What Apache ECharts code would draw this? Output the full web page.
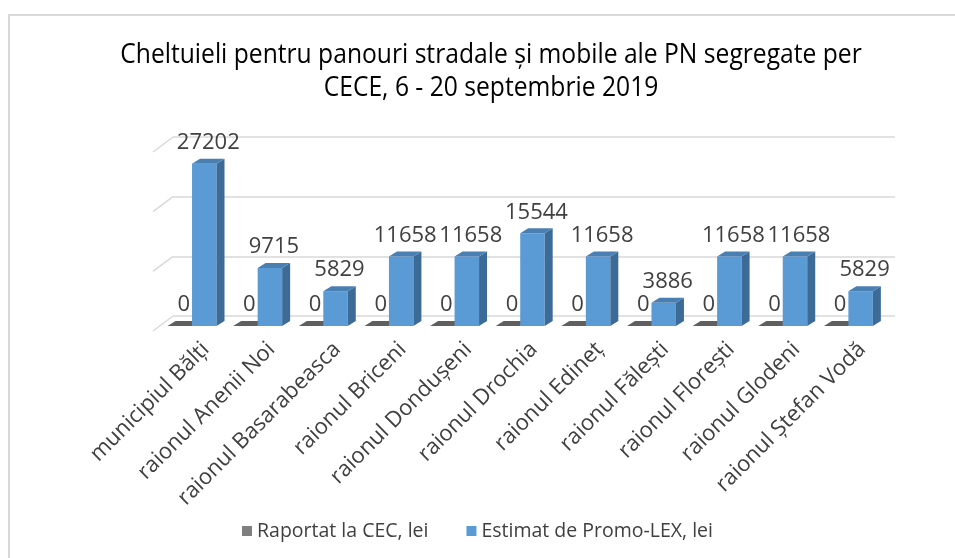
<!DOCTYPE html>
<html>
<head>
<meta charset="utf-8">
<script src="https://cdn.jsdelivr.net/npm/echarts@6/dist/echarts.min.js"></script>
<style>
  html, body { margin: 0; padding: 0; background: #ffffff; }
  #chart { width: 955px; height: 558px; }
</style>
</head>
<body>
<div id="chart"></div>
<script>
// Districts (CECE) and spending per district, lei
const categories = [
  'municipiul Bălți', 'raionul Anenii Noi', 'raionul Basarabeasca', 'raionul Briceni',
  'raionul Dondușeni', 'raionul Drochia', 'raionul Edineț', 'raionul Fălești',
  'raionul Florești', 'raionul Glodeni', 'raionul Ștefan Vodă'
];
const reportedCEC = [0, 0, 0, 0, 0, 0, 0, 0, 0, 0, 0];
const estimatedPromoLex = [27202, 9715, 5829, 11658, 11658, 15544, 11658, 3886, 11658, 11658, 5829];
const valueTicks = [0, 10000, 20000, 30000];

const seriesNames = ['Raportat la CEC, lei', 'Estimat de Promo-LEX, lei'];
const titleLines = ['Cheltuieli pentru panouri stradale și mobile ale PN segregate per',
                    'CECE, 6 - 20 septembrie 2019'];

const FONT = '"Open Sans", "Noto Sans", sans-serif';
const TEXT = '#404040';
const GRID_LINE = '#d9d9d9';
const DEPTH_X = 8, DEPTH_Y = -5;   // bar extrusion
const WALL_X = 20, WALL_Y = 15;    // side wall depth

const grayFaces = { front: '#7f7f7f', side: '#4d4d4d', top: '#5f5f5f' };
const blueFaces = { front: '#5b9bd5', side: '#3d6b97', top: '#4a7fb2' };

// Draws a pseudo-3D column: front face, right side face, top face and a value label
function columnRenderer(side, faces) {
  return function (params, api) {
    const cat = api.value(0);
    const val = api.value(1);
    const base = api.coord([cat, 0]);
    const top = api.coord([cat, val]);
    const band = api.size([1, 0])[0];
    const w = band * 0.373;
    const x0 = side === 0 ? base[0] - w : base[0];
    const x1 = x0 + w;
    const yb = base[1], yt = top[1];
    const children = [];
    if (yb - yt > 0.5) {
      children.push({ type: 'rect', shape: { x: x0, y: yt, width: w, height: yb - yt },
        style: { fill: faces.front } });
      children.push({ type: 'polygon', shape: { points: [[x1, yt], [x1 + DEPTH_X, yt + DEPTH_Y],
        [x1 + DEPTH_X, yb + DEPTH_Y], [x1, yb]] }, style: { fill: faces.side } });
    }
    children.push({ type: 'polygon', shape: { points: [[x0, yt], [x0 + DEPTH_X, yt + DEPTH_Y],
      [x1 + DEPTH_X, yt + DEPTH_Y], [x1, yt]] }, style: { fill: faces.top } });
    children.push({ type: 'text', x: x0 + w / 2 + DEPTH_X / 2, y: yt + DEPTH_Y - 5,
      style: { text: String(val), fill: TEXT, fontSize: 22, fontFamily: FONT,
        align: 'center', verticalAlign: 'bottom' } });
    return { type: 'group', children: children };
  };
}

// Left side-wall gridline stubs, one per value tick
function wallRenderer(params, api) {
  const p = api.coord([0, api.value(1)]);
  const band = api.size([1, 0])[0];
  const xl = p[0] - band / 2;
  return { type: 'line', shape: { x1: xl, y1: p[1], x2: xl - WALL_X, y2: p[1] + WALL_Y },
    style: { stroke: GRID_LINE, lineWidth: 1.5 } };
}

const chart = echarts.init(document.getElementById('chart'), null, { renderer: 'canvas' });

chart.setOption({
  backgroundColor: '#ffffff',
  animation: false,
  graphic: [
    { type: 'rect', shape: { x: 9, y: 15, width: 1000, height: 600 }, z: -10,
      style: { fill: 'none', stroke: GRID_LINE, lineWidth: 2 } },
    { type: 'text', x: 491, y: 55, scaleX: 0.88,
      style: { text: titleLines[0], fill: '#000000', fontSize: 28, fontFamily: FONT,
        align: 'center', verticalAlign: 'middle', textAlign: 'center', textVerticalAlign: 'middle' } },
    { type: 'text', x: 491, y: 88, scaleX: 0.88,
      style: { text: titleLines[1], fill: '#000000', fontSize: 28, fontFamily: FONT,
        align: 'center', verticalAlign: 'middle', textAlign: 'center', textVerticalAlign: 'middle' } }
  ],
  legend: {
    data: seriesNames,
    left: 'center',
    top: 516,
    icon: 'rect',
    itemWidth: 10,
    itemHeight: 10,
    itemGap: 38,
    textStyle: { color: TEXT, fontSize: 19.5, fontFamily: FONT }
  },
  grid: [
    // back wall
    { left: 173, right: 60, top: 137, bottom: 242 },
    // column plane
    { left: 159.2, right: 73.8, top: 147, bottom: 232 }
  ],
  xAxis: [
    { type: 'category', gridIndex: 0, data: categories,
      axisLine: { show: false }, axisTick: { show: false },
      axisLabel: { rotate: 45, margin: 30, color: TEXT, fontSize: 22, fontFamily: FONT, interval: 0 } },
    { type: 'category', gridIndex: 1, data: categories,
      axisLine: { show: false }, axisTick: { show: false }, axisLabel: { show: false } }
  ],
  yAxis: [
    { type: 'value', gridIndex: 0, min: 0, max: 30000, interval: 10000,
      axisLine: { show: false }, axisTick: { show: false }, axisLabel: { show: false },
      splitLine: { show: true, lineStyle: { color: GRID_LINE, width: 1.5 } } },
    { type: 'value', gridIndex: 1, min: 0, max: 30000, interval: 10000,
      axisLine: { show: false }, axisTick: { show: false }, axisLabel: { show: false },
      splitLine: { show: false } }
  ],
  series: [
    { type: 'custom', name: 'wall', xAxisIndex: 0, yAxisIndex: 0, silent: true,
      renderItem: wallRenderer, data: valueTicks.map(v => [0, v]) },
    { type: 'custom', name: seriesNames[0], xAxisIndex: 1, yAxisIndex: 1,
      itemStyle: { color: grayFaces.front },
      renderItem: columnRenderer(0, grayFaces),
      data: reportedCEC.map((v, i) => [i, v]) },
    { type: 'custom', name: seriesNames[1], xAxisIndex: 1, yAxisIndex: 1,
      itemStyle: { color: blueFaces.front },
      renderItem: columnRenderer(1, blueFaces),
      data: estimatedPromoLex.map((v, i) => [i, v]) }
  ]
});
</script>
</body>
</html>
